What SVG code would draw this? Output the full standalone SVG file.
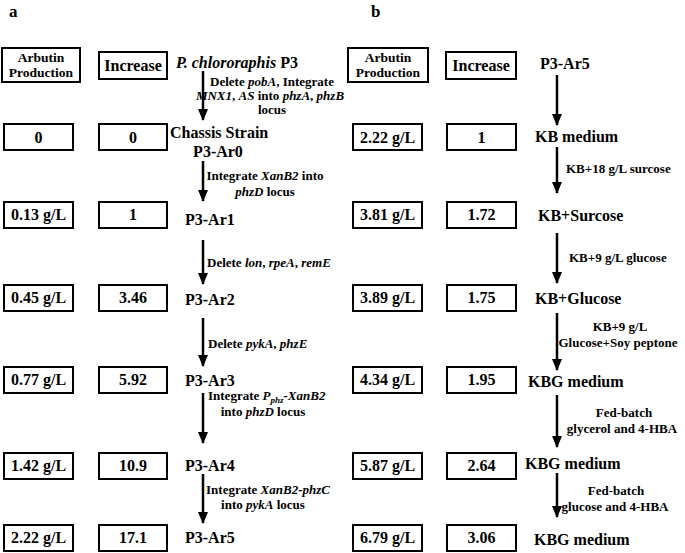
<svg xmlns="http://www.w3.org/2000/svg" width="685" height="553" viewBox="0 0 685 553">
<defs>
<marker id="ah" markerUnits="userSpaceOnUse" markerWidth="12" markerHeight="10" refX="11" refY="5" orient="auto" viewBox="0 0 12 10">
<path d="M0,0 L12,5 L0,10 Z" fill="#000"/>
</marker>
<style>
text{font-family:"Liberation Serif","Times New Roman",serif;font-weight:bold;fill:#000}
.box{fill:#fff;stroke:#000;stroke-width:2}
.v{font-size:16px;text-anchor:middle}
.h{font-size:13.5px;text-anchor:middle}
.s{font-size:16px}
.l{font-size:13px}
.m{text-anchor:middle}
.i{font-style:italic}
.pl{font-size:17px}
.arr{stroke:#000;stroke-width:2.5;fill:none}
</style>
</defs>
<rect width="685" height="553" fill="#fff"/>
<text class="pl" x="9" y="17">a</text>
<text class="pl" x="371" y="17">b</text>

<g id="a-header-arbutin"><rect class="box" x="2" y="48" width="78" height="34"/><text class="h" x="41" y="62">Arbutin</text><text class="h" x="41" y="77">Production</text></g>
<g id="a-header-increase"><rect class="box" x="99" y="52" width="68" height="27"/><text class="v" x="133" y="71">Increase</text></g>
<g id="a-p3"><text class="s" x="176" y="68"><tspan class="i">P. chlororaphis</tspan> P3</text></g>

<g id="a-r0"><rect class="box" x="4" y="124" width="69" height="26"/><text class="v" x="38.5" y="143">0</text><rect class="box" x="99" y="124" width="68" height="26"/><text class="v" x="133" y="143">0</text><text class="s" x="170" y="138">Chassis Strain</text><text class="s m" x="218" y="157">P3-Ar0</text></g>
<g id="a-r1"><rect class="box" x="4" y="202" width="69" height="26"/><text class="v" x="38.5" y="220">0.13 g/L</text><rect class="box" x="99" y="202" width="68" height="26"/><text class="v" x="133" y="220">1</text><text class="s" x="185" y="225">P3-Ar1</text></g>
<g id="a-r2"><rect class="box" x="4" y="285" width="69" height="26"/><text class="v" x="38.5" y="303">0.45 g/L</text><rect class="box" x="99" y="285" width="68" height="26"/><text class="v" x="133" y="303">3.46</text><text class="s" x="185" y="305">P3-Ar2</text></g>
<g id="a-r3"><rect class="box" x="4" y="367" width="69" height="26"/><text class="v" x="38.5" y="385">0.77 g/L</text><rect class="box" x="99" y="367" width="68" height="26"/><text class="v" x="133" y="385">5.92</text><text class="s" x="185" y="386">P3-Ar3</text></g>
<g id="a-r4"><rect class="box" x="4" y="453" width="69" height="26"/><text class="v" x="38.5" y="471">1.42 g/L</text><rect class="box" x="99" y="453" width="68" height="26"/><text class="v" x="133" y="471">10.9</text><text class="s" x="185" y="471">P3-Ar4</text></g>
<g id="a-r5"><rect class="box" x="4" y="525" width="69" height="26"/><text class="v" x="38.5" y="543">2.22 g/L</text><rect class="box" x="99" y="525" width="68" height="26"/><text class="v" x="133" y="543">17.1</text><text class="s" x="185" y="543">P3-Ar5</text></g>

<g id="b-header-arbutin"><rect class="box" x="348" y="48" width="80" height="34"/><text class="h" x="388" y="62">Arbutin</text><text class="h" x="388" y="77">Production</text></g>
<g id="b-header-increase"><rect class="box" x="446" y="52" width="70" height="27"/><text class="v" x="481" y="71">Increase</text></g>
<g id="b-p3"><text class="s" x="540" y="69">P3-Ar5</text></g>
<g id="b-r0"><rect class="box" x="353" y="124" width="69" height="26"/><text class="v" x="387.5" y="143">2.22 g/L</text><rect class="box" x="447" y="124" width="69" height="26"/><text class="v" x="481.5" y="143">1</text><text class="s" x="535" y="142">KB medium</text></g>
<g id="b-r1"><rect class="box" x="353" y="202" width="69" height="26"/><text class="v" x="387.5" y="220">3.81 g/L</text><rect class="box" x="447" y="202" width="69" height="26"/><text class="v" x="481.5" y="220">1.72</text><text class="s" x="538" y="221">KB+Surcose</text></g>
<g id="b-r2"><rect class="box" x="353" y="285" width="69" height="26"/><text class="v" x="387.5" y="303">3.89 g/L</text><rect class="box" x="447" y="285" width="69" height="26"/><text class="v" x="481.5" y="303">1.75</text><text class="s" x="535" y="304">KB+Glucose</text></g>
<g id="b-r3"><rect class="box" x="353" y="367" width="69" height="26"/><text class="v" x="387.5" y="385">4.34 g/L</text><rect class="box" x="447" y="367" width="69" height="26"/><text class="v" x="481.5" y="385">1.95</text><text class="s" x="528" y="387">KBG medium</text></g>
<g id="b-r4"><rect class="box" x="353" y="453" width="69" height="26"/><text class="v" x="387.5" y="471">5.87 g/L</text><rect class="box" x="447" y="453" width="69" height="26"/><text class="v" x="481.5" y="471">2.64</text><text class="s" x="525" y="469">KBG medium</text></g>
<g id="b-r5"><rect class="box" x="353" y="525" width="69" height="26"/><text class="v" x="387.5" y="543">6.79 g/L</text><rect class="box" x="447" y="525" width="69" height="26"/><text class="v" x="481.5" y="543">3.06</text><text class="s" x="534" y="545">KBG medium</text></g>

<g id="connectors">
<line class="arr" x1="203" y1="71" x2="203" y2="120" marker-end="url(#ah)"/>
<line class="arr" x1="203" y1="161" x2="203" y2="201" marker-end="url(#ah)"/>
<line class="arr" x1="203" y1="240" x2="203" y2="284" marker-end="url(#ah)"/>
<line class="arr" x1="203" y1="318" x2="203" y2="366" marker-end="url(#ah)"/>
<line class="arr" x1="203" y1="393" x2="203" y2="443" marker-end="url(#ah)"/>
<line class="arr" x1="203" y1="474" x2="203" y2="523" marker-end="url(#ah)"/>
<line class="arr" x1="557" y1="75" x2="557" y2="125" marker-end="url(#ah)"/>
<line class="arr" x1="557" y1="147" x2="557" y2="193" marker-end="url(#ah)"/>
<line class="arr" x1="557" y1="233" x2="557" y2="283" marker-end="url(#ah)"/>
<line class="arr" x1="557" y1="313" x2="557" y2="370" marker-end="url(#ah)"/>
<line class="arr" x1="557" y1="395" x2="557" y2="447" marker-end="url(#ah)"/>
<line class="arr" x1="557" y1="473" x2="557" y2="517" marker-end="url(#ah)"/>
</g>

<g id="labels">
<text class="l m" x="272" y="86">Delete <tspan class="i">pobA</tspan>, Integrate</text>
<text class="l m" x="270" y="100"><tspan class="i">MNX1</tspan>, <tspan class="i">AS</tspan> into <tspan class="i">phzA</tspan>, <tspan class="i">phzB</tspan></text>
<text class="l m" x="272" y="114">locus</text>
<text class="l m" x="265" y="180">Integrate <tspan class="i">XanB2</tspan> into</text>
<text class="l m" x="265" y="196"><tspan class="i">phzD</tspan> locus</text>
<text class="l" x="207" y="267">Delete <tspan class="i">lon</tspan>, <tspan class="i">rpeA</tspan>, <tspan class="i">remE</tspan></text>
<text class="l" x="208" y="348">Delete <tspan class="i">pykA</tspan>, <tspan class="i">phzE</tspan></text>
<text class="l" x="208" y="400">Integrate <tspan class="i">P</tspan><tspan class="i" font-size="9" dy="3">phz</tspan><tspan class="i" dy="-3">-XanB2</tspan></text>
<text class="l m" x="263" y="416">into <tspan class="i">phzD</tspan> locus</text>
<text class="l m" x="268" y="494">Integrate <tspan class="i">XanB2-phzC</tspan></text>
<text class="l m" x="263" y="509">into <tspan class="i">pykA</tspan> locus</text>

<text class="l" x="566" y="173">KB+18 g/L surcose</text>
<text class="l" x="569" y="262">KB+9 g/L glucose</text>
<text class="l m" x="620" y="331">KB+9 g/L</text>
<text class="l m" x="618" y="347">Glucose+Soy peptone</text>
<text class="l m" x="624" y="417">Fed-batch</text>
<text class="l m" x="622" y="433">glycerol and 4-HBA</text>
<text class="l m" x="616" y="495">Fed-batch</text>
<text class="l m" x="615" y="511">glucose and 4-HBA</text>
</g>
</svg>
